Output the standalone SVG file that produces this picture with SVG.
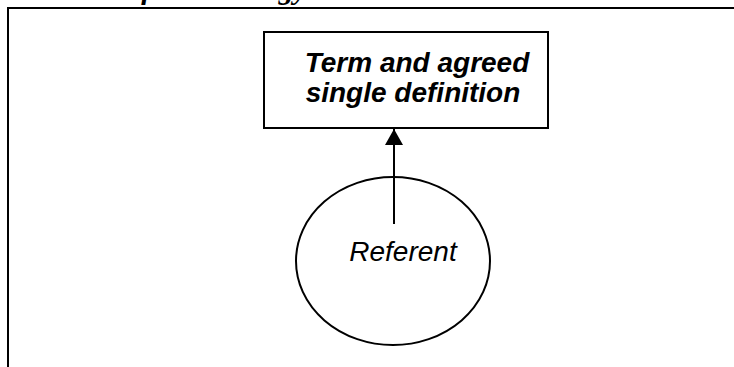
<svg xmlns="http://www.w3.org/2000/svg" width="734" height="367" viewBox="0 0 734 367">
<style>
.frame{fill:none;stroke:#000;stroke-width:2}
.shape{fill:#fff;stroke:#000;stroke-width:2}
.lbl{font-family:"Liberation Sans",Arial,sans-serif;font-style:italic;font-size:28px;fill:#000;text-anchor:middle}
.title{font-family:"Liberation Serif","Times New Roman",serif;font-style:italic;font-weight:bold;font-size:30px;fill:#000}
</style>
<defs>
<marker id="arr" viewBox="0 0 16 18" refX="16" refY="9" markerWidth="16" markerHeight="18" markerUnits="userSpaceOnUse" orient="auto">
<path d="M0,0 L16,9 L0,18 z" fill="#000"/>
</marker>
</defs>
<rect width="734" height="367" fill="#fff"/>
<text class="title" x="-2" y="-1">ative view of terminology</text>
<path class="frame" d="M8,367 L8,8 L734,8"/>
<g id="term">
<rect class="shape" x="264" y="32" width="284" height="96"/>
<text class="lbl" x="417" y="72" font-weight="bold">Term and agreed</text>
<text class="lbl" x="413" y="102" font-weight="bold">single definition</text>
</g>
<g id="referent">
<ellipse class="shape" cx="393" cy="261" rx="97" ry="84"/>
<text class="lbl" x="403" y="261">Referent</text>
</g>
<g id="connectors">
<line x1="394" y1="224" x2="394" y2="129" stroke="#000" stroke-width="2" marker-end="url(#arr)"/>
</g>
</svg>
